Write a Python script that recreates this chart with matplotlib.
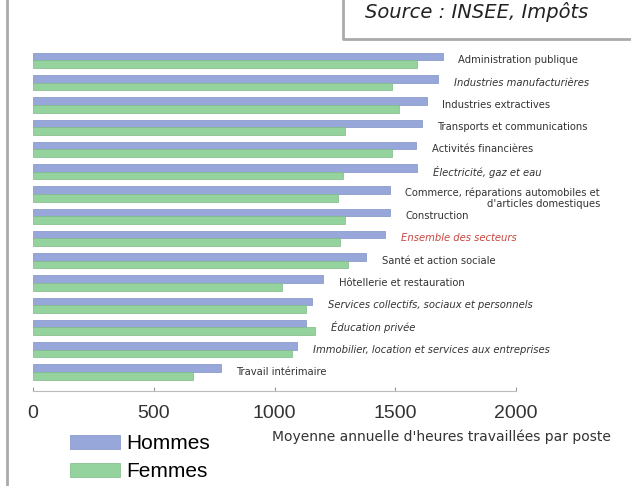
import matplotlib
matplotlib.use("Agg")
import matplotlib.pyplot as plt
from matplotlib.patches import Patch
from matplotlib.lines import Line2D
import numpy as np

# ---------- data (heures annuelles moyennes par poste) ----------
secteurs = [
    "Administration publique",
    "Industries manufacturières",
    "Industries extractives",
    "Transports et communications",
    "Activités financières",
    "Électricité, gaz et eau",
    "Commerce, réparations automobiles et\nd'articles domestiques",
    "Construction",
    "Ensemble des secteurs",
    "Santé et action sociale",
    "Hôtellerie et restauration",
    "Services collectifs, sociaux et personnels",
    "Éducation privée",
    "Immobilier, location et services aux entreprises",
    "Travail intérimaire",
]
hommes = [1698, 1678, 1632, 1612, 1587, 1591, 1479, 1479, 1459, 1380, 1202, 1157, 1132, 1095, 777]
femmes = [1591, 1488, 1517, 1293, 1488, 1285, 1264, 1293, 1273, 1306, 1029, 1132, 1169, 1074, 661]
italiques = [False, True, False, False, False, True, False, False, True, False, False, True, True, True, False]
xticks = [0, 500, 1000, 1500, 2000]

c_h = "#98a7da"
c_f = "#95d39e"

W, H = 631, 486
fig = plt.figure(figsize=(W / 100, H / 100), dpi=100)

# axes: x=0 at px 33, 0.2415 px per hour; axis line at px 391
left, bottom, top = 33, 391, 40
ax = fig.add_axes([left / W, 1 - bottom / H, (W - left) / W, (bottom - top) / H])
ax.set_xlim(0, (W - left) / 0.2415)

y = np.arange(len(secteurs))
bh = 0.34
ax.barh(y - bh / 2, hommes, height=bh, color=c_h, edgecolor="#7f91c4", linewidth=0.5)
ax.barh(y + bh / 2, femmes, height=bh, color=c_f, edgecolor="#7fba88", linewidth=0.5)
ax.set_ylim(14.854, -0.921)

for i, (lab, h, f) in enumerate(zip(secteurs, hommes, femmes)):
    col = "#c8463f" if lab.startswith("Ensemble") else "#333333"
    ax.annotate(lab, xy=(max(h, f), i), xytext=(11, 0 if "\n" not in lab else -3),
                textcoords="offset points", va="center", ha="left",
                fontsize=7.2, color=col, multialignment="right",
                style="italic" if italiques[i] else "normal")

# axis styling
for s in ["top", "right", "left"]:
    ax.spines[s].set_visible(False)
ax.spines["bottom"].set_bounds(0, 2000)
ax.spines["bottom"].set_color("#bbbbbb")
ax.set_yticks([])
ax.set_xticks(xticks)
ax.set_xticklabels([str(t) for t in xticks], fontfamily="Liberation Sans",
                   fontsize=14, color="#333333")
ax.tick_params(axis="x", direction="in", length=3, color="#999999", pad=10)

fig.text(272 / W, 1 - 437 / H, "Moyenne annuelle d'heures travaillées par poste",
         fontsize=10, color="#333333", va="center", ha="left")

handles = [Patch(facecolor=c_h, edgecolor="#7f91c4", linewidth=0.5),
           Patch(facecolor=c_f, edgecolor="#7fba88", linewidth=0.5)]
fig.legend(handles, ["Hommes", "Femmes"], loc="upper left",
           bbox_to_anchor=(70 / W, 1 - 434 / H), frameon=False,
           prop={"family": "Liberation Sans", "size": 15},
           handlelength=2.4, handleheight=0.65, handletextpad=0.3,
           labelspacing=0.45, borderpad=0, borderaxespad=0)

# frame lines and source box
fig.add_artist(Line2D([7 / W, 7 / W], [0, 1], color="#aaaaaa", lw=2))
fig.add_artist(Line2D([343 / W, 343 / W, 1], [1, 1 - 39 / H, 1 - 39 / H],
                      color="#aaaaaa", lw=2))
fig.text(365 / W, 1 - 18 / H, "Source : INSEE, Impôts", fontsize=14,
         style="italic", color="#222222", va="baseline", ha="left")

fig.savefig("out.png", dpi=100)
